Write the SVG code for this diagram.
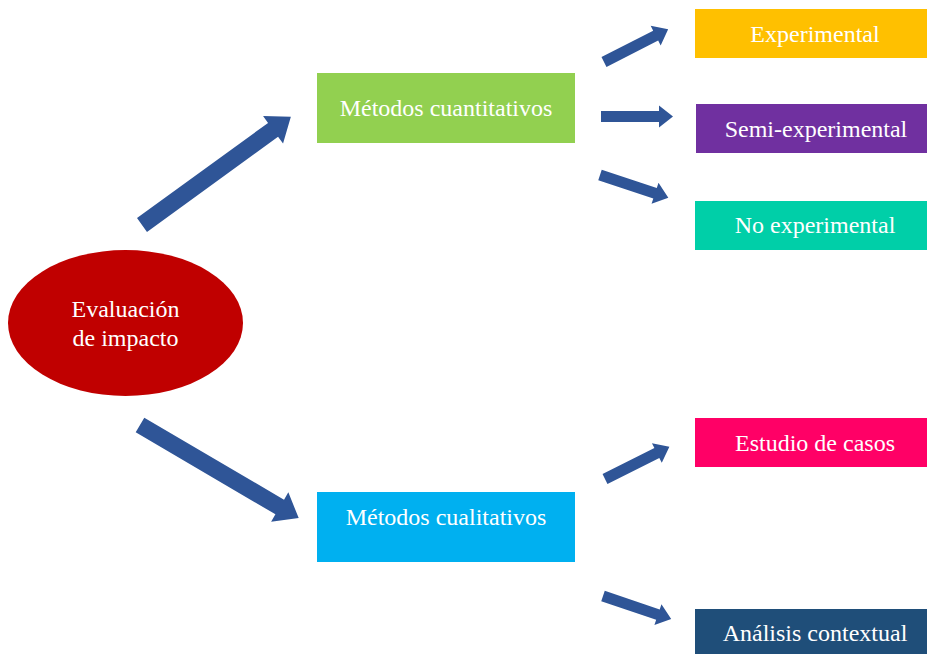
<svg xmlns="http://www.w3.org/2000/svg" width="927" height="654" viewBox="0 0 927 654">
  <style>
    .lbl { font-family: "Liberation Serif", "Times New Roman", serif; font-size: 24px; fill: #ffffff; text-anchor: middle; }
    .arrow { fill: #2F5597; }
  </style>
  <defs>
    <!-- block arrows, tail at origin pointing along +x -->
    <polygon id="bigArrow" points="0,-8.5 162,-8.5 162,-17 184,0 162,17 162,8.5 0,8.5"/>
    <polygon id="smallArrow" points="0,-5.5 58,-5.5 58,-11 72,0 58,11 58,5.5 0,5.5"/>
  </defs>
  <rect width="927" height="654" fill="#ffffff"/>

  <g id="connectors">
    <use href="#bigArrow" class="arrow" transform="translate(142,225) rotate(-36)"/>
    <use href="#bigArrow" class="arrow" transform="translate(140,425) rotate(30.4)"/>
    <use href="#smallArrow" class="arrow" transform="translate(604,62) rotate(-27)"/>
    <use href="#smallArrow" class="arrow" transform="translate(601,116.5)"/>
    <use href="#smallArrow" class="arrow" transform="translate(600,175) rotate(18.4)"/>
    <use href="#smallArrow" class="arrow" transform="translate(605,479) rotate(-26.6)"/>
    <use href="#smallArrow" class="arrow" transform="translate(603,596) rotate(18.7)"/>
  </g>

  <g id="evaluacion">
    <ellipse cx="125.5" cy="323" rx="117.5" ry="73" fill="#C00000"/>
    <text class="lbl" x="125.5" y="317">Evaluación</text>
    <text class="lbl" x="125.5" y="346">de impacto</text>
  </g>

  <g id="cuantitativos">
    <rect x="317" y="73" width="258" height="70" fill="#92D050"/>
    <text class="lbl" x="446" y="116">Métodos cuantitativos</text>
  </g>

  <g id="cualitativos">
    <rect x="317" y="492" width="258" height="70" fill="#00B0F0"/>
    <text class="lbl" x="446" y="525">Métodos cualitativos</text>
  </g>

  <g id="experimental">
    <rect x="695" y="9" width="232" height="49" fill="#FFC000"/>
    <text class="lbl" x="815" y="42">Experimental</text>
  </g>

  <g id="semi-experimental">
    <rect x="696" y="104" width="231" height="49" fill="#7030A0"/>
    <text class="lbl" x="816" y="137">Semi-experimental</text>
  </g>

  <g id="no-experimental">
    <rect x="695" y="201" width="232" height="49" fill="#00CFA8"/>
    <text class="lbl" x="815" y="233">No experimental</text>
  </g>

  <g id="estudio-casos">
    <rect x="695" y="418" width="232" height="49" fill="#FF0066"/>
    <text class="lbl" x="815" y="451">Estudio de casos</text>
  </g>

  <g id="analisis-contextual">
    <rect x="695" y="609" width="232" height="45" fill="#1F4E79"/>
    <text class="lbl" x="815" y="641">Análisis contextual</text>
  </g>
</svg>
